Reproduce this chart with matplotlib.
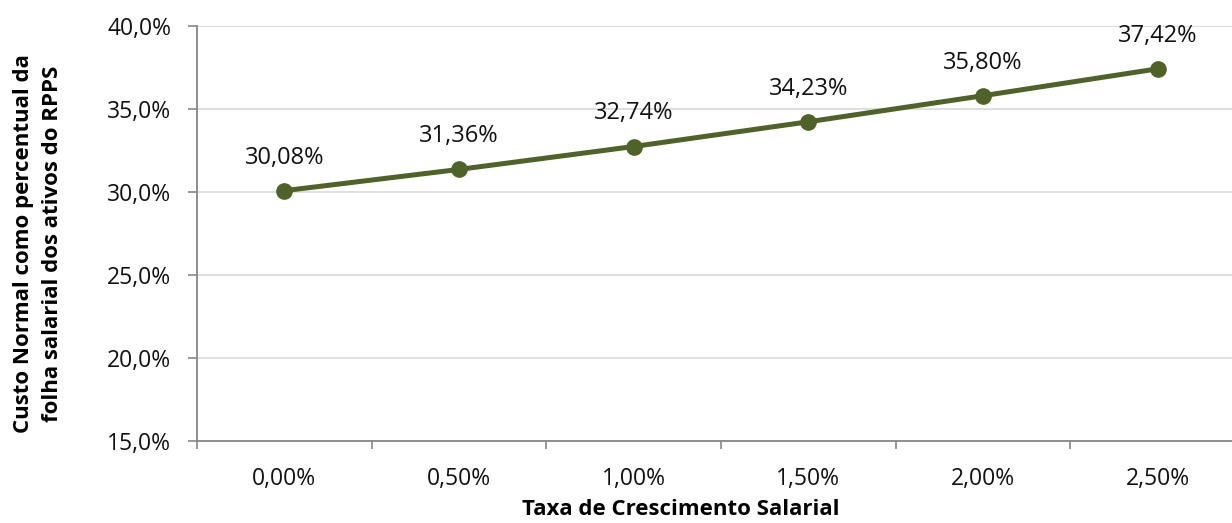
import matplotlib
matplotlib.use("Agg")
import matplotlib.pyplot as plt

categories = ["0,00%", "0,50%", "1,00%", "1,50%", "2,00%", "2,50%"]
values = [30.08, 31.36, 32.74, 34.23, 35.80, 37.42]
yticks = [15, 20, 25, 30, 35, 40]

plt.rcParams['font.family'] = ['Open Sans', 'DejaVu Sans']

fig = plt.figure(figsize=(12.32, 5.23), dpi=100)
ax = fig.add_axes([197/1232, 1-441/523, 1048/1232, (441-26)/523])

x = list(range(len(categories)))
ax.plot(x, values, color="#4F6228", lw=3.6, marker="o", ms=11, zorder=3)
for xi, v in zip(x, values):
    ax.annotate(f"{v:.2f}%".replace(".", ","), (xi, v), xytext=(0, 19.5),
                textcoords="offset points", ha="center", va="baseline", fontsize=17, color="#111111")

ax.set_xlim(-0.5, len(categories)-0.5)
ax.set_ylim(15, 40)
ax.set_yticks(yticks)
ax.set_yticklabels([f"{t:.1f}%".replace(".", ",") for t in yticks], fontsize=16.5, color="#111111")
ax.set_xticks(x)
ax.set_xticklabels(categories, fontsize=16.5, color="#111111")
ax.tick_params(axis='x', length=0, pad=19)
ax.set_xticks([i-0.5 for i in range(len(categories)+1)], minor=True)
ax.tick_params(axis='x', which='minor', length=6, color="#878787", width=1.2)
ax.tick_params(axis='y', length=6.5, color="#878787", width=1.2, pad=12)
ax.grid(axis='y', color="#d9d9d9", lw=1.2)
ax.set_axisbelow(True)
for s in ["top", "right"]:
    ax.spines[s].set_visible(False)
for s in ["left", "bottom"]:
    ax.spines[s].set_color("#878787")
    ax.spines[s].set_linewidth(1.3)

ax.set_xlabel("Taxa de Crescimento Salarial", fontsize=16, fontweight="bold")
ax.xaxis.set_label_coords((681-197)/1048, (441-515)/415)
ax.xaxis.label.set_va("baseline")
ax.set_ylabel("Custo Normal como percentual da\nfolha salarial dos ativos do RPPS", fontsize=16,
              fontweight="bold", linespacing=1.45)
ax.yaxis.set_label_coords((38-197)/1048, (441-244)/415)
ax.yaxis.label.set_va("center")

fig.savefig("out.png", dpi=100)
